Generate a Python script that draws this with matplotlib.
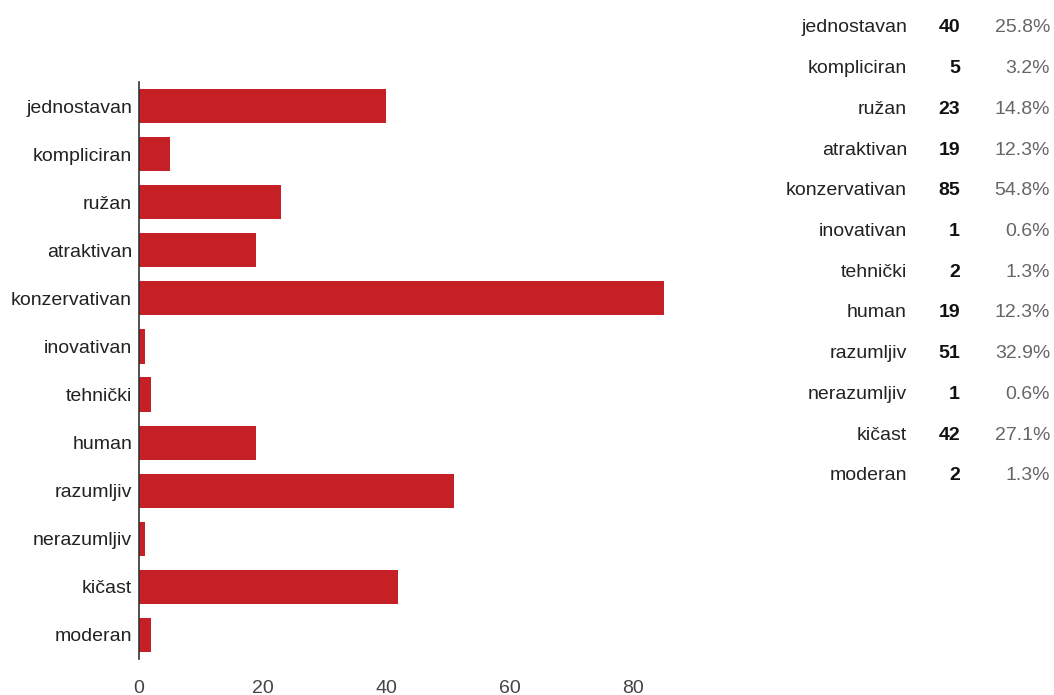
import matplotlib
matplotlib.use("Agg")
import matplotlib.pyplot as plt
from matplotlib import font_manager

names = [f.name for f in font_manager.fontManager.ttflist]
fam = ['Liberation Sans Narrow', 'DejaVu Sans'] if 'Liberation Sans Narrow' in names else ['Liberation Sans', 'DejaVu Sans']
plt.rcParams['font.family'] = fam

categories = ["jednostavan", "kompliciran", "ružan", "atraktivan", "konzervativan",
              "inovativan", "tehnički", "human", "razumljiv", "nerazumljiv",
              "kičast", "moderan"]
counts = [40, 5, 23, 19, 85, 1, 2, 19, 51, 1, 42, 2]
percents = ["25.8%", "3.2%", "14.8%", "12.3%", "54.8%", "0.6%", "1.3%",
            "12.3%", "32.9%", "0.6%", "27.1%", "1.3%"]
xticks = [0, 20, 40, 60, 80]

W, H = 1054, 695
fig = plt.figure(figsize=(W / 100, H / 100), dpi=100)
ax = fig.add_axes([139 / W, 1 - 659 / H, (695 - 139) / W, (659 - 82) / H])

ypos = list(range(len(categories)))
ax.barh(ypos, counts, height=0.71, color="#C62027")
ax.set_ylim(len(categories) - 0.5, -0.5)
ax.set_xlim(0, 90)
ax.set_yticks(ypos)
ax.set_yticklabels(categories, fontsize=14, color="#222222")
ax.set_xticks(xticks)
ax.set_xticklabels([str(t) for t in xticks], fontsize=14, color="#444444")
ax.tick_params(axis='both', length=0)
ax.tick_params(axis='y', pad=5)
ax.tick_params(axis='x', pad=15)
for s in ["top", "right", "bottom"]:
    ax.spines[s].set_visible(False)
ax.spines["left"].set_color("#333333")
ax.spines["left"].set_linewidth(1.2)

# right-hand table
y0, dy = 28, 40.7
for i, (c, n, p) in enumerate(zip(categories, counts, percents)):
    yy = 1 - (y0 + i * dy) / H
    fig.text(907 / W, yy, c, ha="right", va="center", fontsize=14, color="#222222")
    fig.text(960 / W, yy, str(n), ha="right", va="center", fontsize=14,
             fontweight="bold", color="#111111")
    fig.text(1050 / W, yy, p, ha="right", va="center", fontsize=14, color="#666666")

fig.savefig("out.png", dpi=100)
